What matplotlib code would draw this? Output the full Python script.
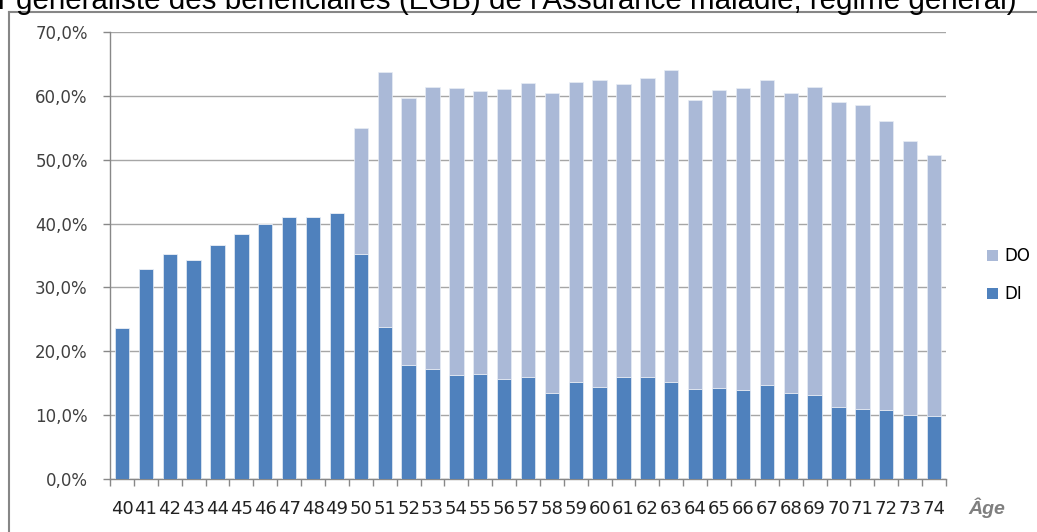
import matplotlib
matplotlib.use("Agg")
import matplotlib.pyplot as plt
from matplotlib.patches import Patch
from matplotlib.lines import Line2D
import numpy as np

ages = [str(a) for a in range(40, 75)]
di = [23.7, 32.9, 35.3, 34.3, 36.6, 38.4, 39.9, 41.1, 41.1, 41.6,
      35.2, 23.8, 17.9, 17.3, 16.3, 16.4, 15.6, 15.9, 13.4, 15.2,
      14.4, 15.9, 15.9, 15.2, 14.1, 14.3, 13.9, 14.7, 13.4, 13.2,
      11.3, 11.0, 10.8, 10.0, 9.9]
total = [23.7, 32.9, 35.3, 34.3, 36.6, 38.4, 39.9, 41.1, 41.1, 41.6,
         54.9, 63.7, 59.6, 61.4, 61.2, 60.7, 61.1, 62.0, 60.4, 62.2,
         62.5, 61.9, 62.8, 64.0, 59.4, 60.9, 61.3, 62.5, 60.5, 61.4,
         59.0, 58.5, 56.1, 53.0, 50.7]
do = [round(t - d, 1) for t, d in zip(total, di)]
yticks = [0, 10, 20, 30, 40, 50, 60, 70]
ytick_labels = ["0,0%", "10,0%", "20,0%", "30,0%", "40,0%", "50,0%", "60,0%", "70,0%"]
title = "r généraliste des bénéficiaires (EGB) de l'Assurance maladie, régime général)"

W, H = 1037, 532
fig = plt.figure(figsize=(W / 100, H / 100), dpi=100)
fig.patch.set_facecolor("white")

ax = fig.add_axes([110 / W, (H - 479) / H, (946 - 110) / W, (479 - 32) / H])

c_di = "#4F81BD"
c_do = "#AAB9D7"
x = np.arange(len(ages))
ax.bar(x, di, width=0.6, color=c_di, edgecolor="#E8EDF5", linewidth=0.5, zorder=3)
ax.bar(x, do, bottom=di, width=0.6, color=c_do, edgecolor="#E8EDF5", linewidth=0.5, zorder=3)

ax.set_xlim(-0.5, len(ages) - 0.5)
ax.set_ylim(0, 70)
ax.set_yticks(yticks)
ax.set_yticklabels(ytick_labels, fontsize=12, color="#404040", family="DejaVu Sans")
ax.set_xticks(x)
ax.set_xticklabels(ages, fontsize=13, color="#222222", family="DejaVu Sans")
ax.set_xticks(np.arange(-0.5, len(ages), 1), minor=True)
ax.tick_params(axis="x", which="major", length=0, pad=15)
ax.tick_params(axis="x", which="minor", length=5, color="#888888", width=1)
ax.tick_params(axis="y", which="major", length=5, color="#888888", width=1, pad=11)

ax.grid(axis="y", color="#A6A6A6", linewidth=1, zorder=0)
ax.set_axisbelow(True)
for s in ["top", "right"]:
    ax.spines[s].set_visible(False)
for s in ["left", "bottom"]:
    ax.spines[s].set_color("#888888")
    ax.spines[s].set_linewidth(1)

# legend
handles = [Patch(facecolor=c_do, edgecolor="none", label="DO"),
           Patch(facecolor=c_di, edgecolor="none", label="DI")]
fig.legend(handles=handles, loc="center left", bbox_to_anchor=(979 / W, 1 - 275 / H),
           frameon=False, handlelength=0.65, handleheight=0.65,
           handletextpad=0.35, labelspacing=1.2, borderpad=0,
           prop={"family": "DejaVu Sans", "size": 12})

fig.text(987 / W, 1 - 508 / H, "Âge", ha="center", va="center", fontsize=14,
         fontweight="bold", fontstyle="italic", color="#7F7F7F", family="Liberation Sans")

# outer chart frame
fig.add_artist(Line2D([9 / W, 9 / W], [0, 1 - 12 / H], transform=fig.transFigure,
                      color="#868686", linewidth=1.5))
fig.add_artist(Line2D([9 / W, 1], [1 - 12 / H, 1 - 12 / H], transform=fig.transFigure,
                      color="#868686", linewidth=1.5))

# title, cut off at the top as in the source image
t = fig.text(-2 / W, 1 - 9 / H, title, ha="left", va="baseline", fontsize=20,
             family="Liberation Sans", color="black")
fig.canvas.draw()
w = t.get_window_extent().width
t.set_fontsize(20 * 1015 / w)

fig.savefig("out.png", dpi=100)
